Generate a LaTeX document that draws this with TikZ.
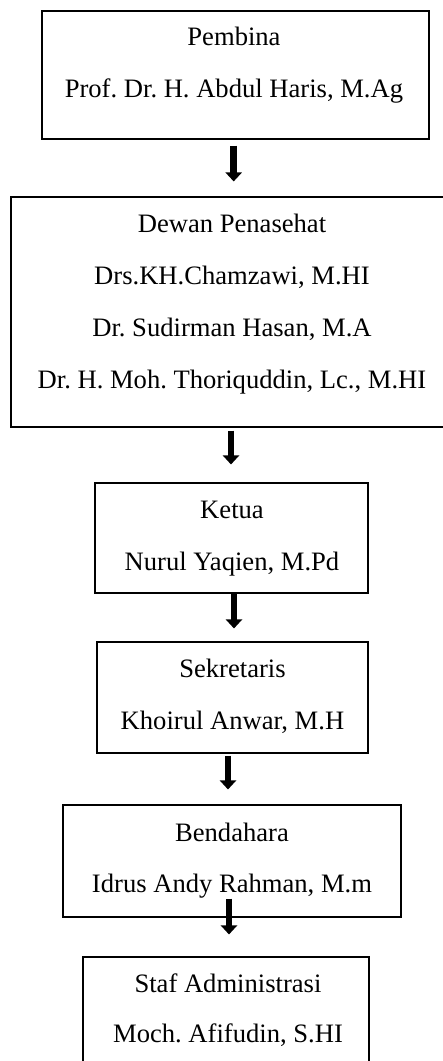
\documentclass[tikz,border=0pt]{standalone}
\usepackage{fontspec}
\setmainfont{Liberation Serif}
\usetikzlibrary{arrows.meta}
\frenchspacing
\begin{document}
\begin{tikzpicture}[x=1pt,y=-1pt,
  box/.style={draw=black,line width=1.1pt,inner sep=0pt,rectangle},
  line/.style={anchor=base,inner sep=0pt,font=\fontsize{26.6}{52}\selectfont},
  arr/.style={line width=6.5pt,-{Triangle[width=16pt,length=9pt]}}]
  % page frame
  \clip (0,0) rectangle (443,1061);
  \fill[white] (0,0) rectangle (443,1061);

  % boxes
  \node[box,minimum width=387pt,minimum height=128pt] (pem) at (235.5,75) {};
  \node[box,minimum width=442pt,minimum height=230pt] (dew) at (232,312) {};
  \node[box,minimum width=273pt,minimum height=110pt] (ket) at (231.5,538) {};
  \node[box,minimum width=271pt,minimum height=111pt] (sek) at (232.5,697.5) {};
  \node[box,minimum width=338pt,minimum height=112pt] (bend) at (232,861) {};
  \node[box,minimum width=286pt,minimum height=110pt] (staf) at (226,1012) {};

  % texts
  \node[line] (pem1) at (234,45.5) {Pembina};
  \node[line] (pem2) at (234,97) {Prof. Dr. H. Abdul Haris, M.Ag};

  \node[line] (dew1) at (232,232) {Dewan Penasehat};
  \node[line] (dew2) at (232,284) {Drs.KH.Chamzawi, M.HI};
  \node[line] (dew3) at (232,336) {Dr. Sudirman Hasan, M.A};
  \node[line] (dew4) at (232,388) {Dr. H. Moh. Thoriquddin, Lc., M.HI};

  \node[line] (ket1) at (232,518) {Ketua};
  \node[line] (ket2) at (232,570) {Nurul Yaqien, M.Pd};

  \node[line] (sek1) at (232.5,677) {Sekretaris};
  \node[line] (sek2) at (232.5,729) {Khoirul Anwar, M.H};

  \node[line] (bend1) at (232,841) {Bendahara};
  \node[line] (bend2) at (232,892) {Idrus Andy Rahman, M.m};

  \node[line] (staf1) at (228,992) {Staf Administrasi};
  \node[line] (staf2) at (228,1042) {Moch. Afifudin, S.HI};

  % connectors
  \draw[arr] ([xshift=-1.8pt,yshift=-6pt]pem.south) -- ([xshift=1.7pt,yshift=15pt]dew.north);
  \draw[arr] ([xshift=-1pt,yshift=-3pt]dew.south) -- ([xshift=-0.5pt,yshift=18pt]ket.north);
  \draw[arr] ([xshift=2.5pt]ket.south) -- ([xshift=1.5pt,yshift=13pt]sek.north);
  \draw[arr] ([xshift=-4.5pt,yshift=-2pt]sek.south) -- ([xshift=-4pt,yshift=15pt]bend.north);
  \draw[arr] ([xshift=-3pt,yshift=19pt]bend.south) -- ([xshift=3pt,yshift=22pt]staf.north);
\end{tikzpicture}
\end{document}
